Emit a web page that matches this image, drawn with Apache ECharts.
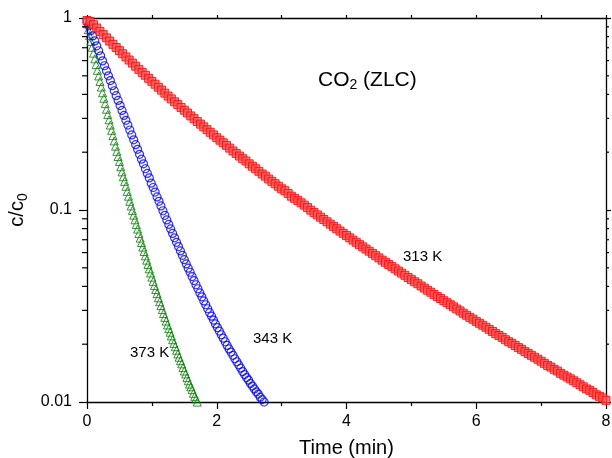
<!DOCTYPE html>
<html><head><meta charset="utf-8">
<script src="https://cdn.jsdelivr.net/npm/echarts@6/dist/echarts.min.js"></script>
<style>html,body{margin:0;padding:0;background:#fff}#c{width:612px;height:458px}</style>
</head><body><div id="c"></div>
<script>
// 313 K (red squares)
const t313 = [0,0.05,0.1,0.15,0.2,0.25,0.3,0.35,0.4,0.45,0.5,0.55,0.6,0.65,0.7,0.75,0.8,0.85,0.9,0.95,
1,1.05,1.1,1.15,1.2,1.25,1.3,1.35,1.4,1.45,1.5,1.55,1.6,1.65,1.7,1.75,1.8,1.85,1.9,1.95,
2,2.05,2.1,2.15,2.2,2.25,2.3,2.35,2.4,2.45,2.5,2.55,2.6,2.65,2.7,2.75,2.8,2.85,2.9,2.95,
3,3.05,3.1,3.15,3.2,3.25,3.3,3.35,3.4,3.45,3.5,3.55,3.6,3.65,3.7,3.75,3.8,3.85,3.9,3.95,
4,4.05,4.1,4.15,4.2,4.25,4.3,4.35,4.4,4.45,4.5,4.55,4.6,4.65,4.7,4.75,4.8,4.85,4.9,4.95,
5,5.05,5.1,5.15,5.2,5.25,5.3,5.35,5.4,5.45,5.5,5.55,5.6,5.65,5.7,5.75,5.8,5.85,5.9,5.95,
6,6.05,6.1,6.15,6.2,6.25,6.3,6.35,6.4,6.45,6.5,6.55,6.6,6.65,6.7,6.75,6.8,6.85,6.9,6.95,
7,7.05,7.1,7.15,7.2,7.25,7.3,7.35,7.4,7.45,7.5,7.55,7.6,7.65,7.7,7.75,7.8,7.85,7.9,7.95,8];
const c313 = [0.970,0.960,0.923,0.887,0.852,0.819,0.788,0.758,0.729,0.702,
0.676,0.651,0.627,0.604,0.582,0.561,0.540,0.521,0.503,0.485,
0.468,0.452,0.436,0.421,0.406,0.392,0.379,0.366,0.354,0.342,
0.331,0.320,0.309,0.299,0.289,0.280,0.271,0.262,0.254,0.246,
0.238,0.231,0.224,0.217,0.210,0.203,0.197,0.191,0.185,0.180,
0.174,0.169,0.164,0.159,0.154,0.150,0.145,0.141,0.137,0.133,
0.129,0.126,0.122,0.118,0.115,0.112,0.109,0.106,0.103,0.0998,
0.0970,0.0943,0.0917,0.0892,0.0868,0.0844,0.0821,0.0799,0.0777,0.0756,
0.0736,0.0716,0.0697,0.0679,0.0660,0.0643,0.0626,0.0610,0.0594,0.0578,
0.0563,0.0548,0.0534,0.0520,0.0507,0.0494,0.0481,0.0469,0.0457,0.0445,
0.0434,0.0423,0.0413,0.0402,0.0392,0.0382,0.0373,0.0363,0.0354,0.0346,
0.0337,0.0329,0.0321,0.0313,0.0305,0.0298,0.0290,0.0283,0.0276,0.0270,
0.0263,0.0257,0.0251,0.0245,0.0239,0.0233,0.0227,0.0222,0.0217,0.0211,
0.0206,0.0202,0.0197,0.0192,0.0188,0.0183,0.0179,0.0175,0.0171,0.0167,
0.0163,0.0159,0.0155,0.0152,0.0148,0.0145,0.0141,0.0138,0.0135,0.0132,
0.0129,0.0126,0.0123,0.0120,0.0117,0.0115,0.0112,0.0109,0.0107,0.0105,
0.0102];
// 343 K (blue circles)
const t343 = [0,0.03,0.06,0.09,0.12,0.15,0.18,0.21,0.24,0.27,0.3,0.33,0.36,0.39,0.42,0.45,0.48,0.51,0.54,0.57,0.6,0.63,0.66,0.69,0.72,0.75,0.78,0.81,0.84,0.87,0.9,0.93,0.96,0.99,1.02,1.05,1.08,1.11,1.14,1.17,1.2,1.23,1.26,1.29,1.32,1.35,1.38,1.41,1.44,1.47,1.5,1.53,1.56,1.59,1.62,1.65,1.68,1.71,1.74,1.77,1.8,1.83,1.86,1.89,1.92,1.95,1.98,2.01,2.04,2.07,2.1,2.13,2.16,2.19,2.22,2.25,2.28,2.31,2.34,2.37,2.4,2.43,2.46,2.49,2.52,2.55,2.58,2.61,2.64,2.67,2.7,2.73];
const c343 = [0.966,0.910,0.857,0.807,0.760,0.716,0.675,0.635,0.598,0.564,
0.531,0.500,0.472,0.444,0.418,0.394,0.372,0.350,0.330,0.311,
0.293,0.277,0.261,0.246,0.232,0.219,0.207,0.195,0.184,0.174,
0.164,0.155,0.147,0.138,0.131,0.124,0.117,0.111,0.105,0.0991,
0.0938,0.0888,0.0841,0.0797,0.0755,0.0716,0.0679,0.0645,0.0612,0.0581,
0.0551,0.0524,0.0498,0.0474,0.0450,0.0429,0.0408,0.0389,0.0370,0.0353,
0.0336,0.0321,0.0306,0.0292,0.0280,0.0267,0.0255,0.0244,0.0234,0.0224,
0.0215,0.0206,0.0197,0.0189,0.0182,0.0175,0.0168,0.0162,0.0156,0.0150,
0.0144,0.0139,0.0134,0.0130,0.0125,0.0121,0.0117,0.0113,0.0110,0.0106,
0.0103,0.0100];
// 373 K (green triangles)
const t373 = [0,0.02,0.04,0.06,0.08,0.1,0.12,0.14,0.16,0.18,0.2,0.22,0.24,0.26,0.28,0.3,0.32,0.34,0.36,0.38,0.4,0.42,0.44,0.46,0.48,0.5,0.52,0.54,0.56,0.58,0.6,0.62,0.64,0.66,0.68,0.7,0.72,0.74,0.76,0.78,0.8,0.82,0.84,0.86,0.88,0.9,0.92,0.94,0.96,0.98,1,1.02,1.04,1.06,1.08,1.1,1.12,1.14,1.16,1.18,1.2,1.22,1.24,1.26,1.28,1.3,1.32,1.34,1.36,1.38,1.4,1.42,1.44,1.46,1.48,1.5,1.52,1.54,1.56,1.58,1.6,1.62,1.64,1.66,1.68,1.7,1.72];
const c373 = [0.933,0.869,0.810,0.755,0.704,0.656,0.613,0.572,0.534,0.499,
0.467,0.437,0.408,0.382,0.358,0.335,0.314,0.295,0.277,0.260,
0.244,0.229,0.215,0.202,0.190,0.179,0.168,0.158,0.149,0.141,
0.133,0.125,0.118,0.111,0.105,0.0995,0.0940,0.0889,0.0841,0.0796,
0.0754,0.0714,0.0677,0.0641,0.0608,0.0577,0.0548,0.0520,0.0494,0.0470,
0.0447,0.0425,0.0404,0.0385,0.0367,0.0349,0.0333,0.0318,0.0303,0.0289,
0.0276,0.0264,0.0252,0.0241,0.0231,0.0221,0.0211,0.0202,0.0194,0.0186,
0.0178,0.0171,0.0164,0.0158,0.0151,0.0145,0.0140,0.0134,0.0129,0.0124,
0.0120,0.0116,0.0111,0.0107,0.0104,0.00999,0.00965];

const yMajorLabels = {'1':'1','0.1':'0.1','0.01':'0.01'};
const yMinorTicks = [0.02,0.03,0.04,0.05,0.06,0.07,0.08,0.09,0.2,0.3,0.4,0.5,0.6,0.7,0.8,0.9];

const FONT = 'Liberation Sans, Arial, Helvetica, sans-serif';
const pairs = (t, c) => t.map((x, i) => [x, c[i]]);

const chart = echarts.init(document.getElementById('c'), null, {renderer: 'canvas'});
const axisLine = {show: true, onZero: false, lineStyle: {color: '#000', width: 1.3}};
chart.setOption({
  animation: false,
  backgroundColor: '#fff',
  grid: {left: 87, right: 6, top: 18, bottom: 56, containLabel: false, outerBoundsMode: 'none'},
  xAxis: [{
    type: 'value', min: 0, max: 8, interval: 2, position: 'bottom',
    axisLine, splitLine: {show: false},
    axisTick: {show: true, inside: false, length: 7, lineStyle: {color: '#000', width: 1.2}},
    minorTick: {show: true, splitNumber: 2, length: 4, lineStyle: {color: '#000', width: 1.2}},
    axisLabel: {fontSize: 16, color: '#000', fontFamily: FONT, margin: 12},
    name: 'Time (min)', nameLocation: 'middle', nameGap: 36,
    nameTextStyle: {fontSize: 20, color: '#000', fontFamily: FONT}
  }, {
    type: 'value', min: 0, max: 8, interval: 1, position: 'top',
    axisLine, splitLine: {show: false},
    axisTick: {show: true, inside: false, length: 3, lineStyle: {color: '#000', width: 1.2}},
    axisLabel: {show: false}
  }],
  yAxis: [{
    type: 'log', logBase: 10, min: 0.01, max: 1, position: 'left',
    axisLine, splitLine: {show: false},
    axisTick: {show: true, inside: false, length: 8, lineStyle: {color: '#000', width: 1.2}},
    axisLabel: {fontSize: 16, color: '#000', fontFamily: FONT, margin: 15,
      formatter: v => yMajorLabels[String(+(+v).toPrecision(3))] || ''},
    name: 'c/c{s|0}', nameLocation: 'middle', nameGap: 54, nameRotate: 90,
    nameTextStyle: {fontSize: 20, color: '#000', fontFamily: FONT,
      rich: {s: {fontSize: 14, color: '#000', fontFamily: FONT, padding: [10, 0, 0, 0]}}}
  }, {
    type: 'log', logBase: 10, min: 0.01, max: 1, position: 'right',
    axisLine, splitLine: {show: false},
    axisTick: {show: true, inside: false, length: 5, lineStyle: {color: '#000', width: 1.2}},
    axisLabel: {show: false}
  }],
  series: [
    {
      type: 'custom', xAxisIndex: 0, yAxisIndex: 0, silent: true, clip: false, z: 5,
      data: yMinorTicks.map(v => [0, v]),
      renderItem: (params, api) => {
        const v = api.value(1);
        const l = api.coord([0, v]);
        const r = api.coord([8, v]);
        return {type: 'group', children: [
          {type: 'line', shape: {x1: l[0] - 5, y1: l[1], x2: l[0], y2: l[1]}, style: {stroke: '#000', lineWidth: 1.2}},
          {type: 'line', shape: {x1: r[0], y1: r[1], x2: r[0] + 3, y2: r[1]}, style: {stroke: '#000', lineWidth: 1.2}}
        ]};
      }
    },
    {
      name: '373 K', type: 'scatter', xAxisIndex: 0, yAxisIndex: 0, clip: true,
      data: pairs(t373, c373), symbol: 'triangle', symbolSize: 8,
      itemStyle: {color: 'rgba(0,0,0,0)', borderColor: '#008000', borderWidth: 1}
    },
    {
      name: '343 K', type: 'scatter', xAxisIndex: 0, yAxisIndex: 0, clip: true,
      data: pairs(t343, c343), symbol: 'circle', symbolSize: 8,
      itemStyle: {color: 'rgba(0,0,0,0)', borderColor: '#0000ff', borderWidth: 1.2}
    },
    {
      name: '313 K', type: 'scatter', xAxisIndex: 0, yAxisIndex: 0, clip: true,
      data: pairs(t313, c313), symbol: 'rect', symbolSize: 8,
      itemStyle: {color: 'rgba(255,80,80,0.9)', borderColor: '#ff0000', borderWidth: 1}
    }
  ],
  graphic: [
    {type: 'text', x: 318, y: 80, silent: true, style: {text: 'CO{s|2} (ZLC)', fontSize: 21, fill: '#000', fontFamily: FONT, verticalAlign: 'middle',
      rich: {s: {fontSize: 14, fill: '#000', fontFamily: FONT, padding: [11, 0, 0, 0]}}}},
    {type: 'text', x: 403, y: 257, silent: true, style: {text: '313 K', fontSize: 15, fill: '#000', fontFamily: FONT, verticalAlign: 'middle'}},
    {type: 'text', x: 253, y: 339, silent: true, style: {text: '343 K', fontSize: 15, fill: '#000', fontFamily: FONT, verticalAlign: 'middle'}},
    {type: 'text', x: 130, y: 353, silent: true, style: {text: '373 K', fontSize: 15, fill: '#000', fontFamily: FONT, verticalAlign: 'middle'}}
  ]
});
</script></body></html>
